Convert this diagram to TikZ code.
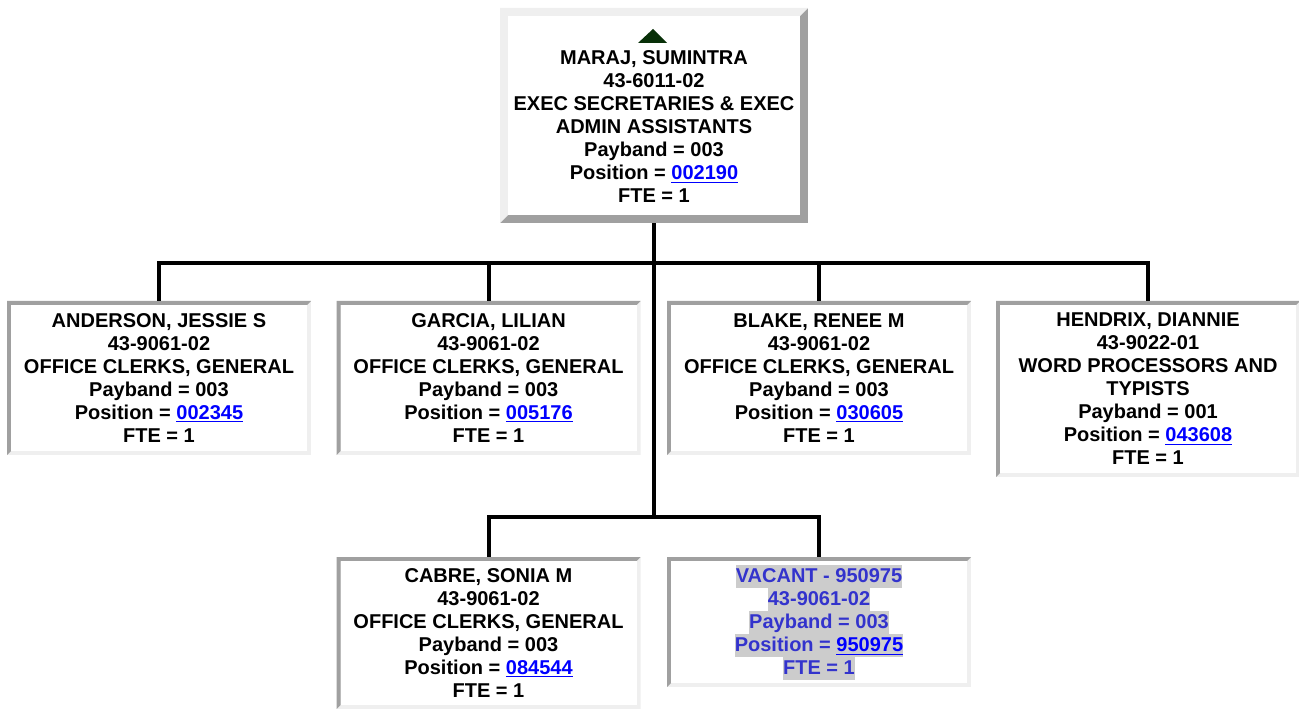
\documentclass[tikz,border=0pt]{standalone}
\usepackage{fontspec}
\setmainfont{Liberation Sans}
\usepackage{xcolor}
\usetikzlibrary{positioning, calc}
\definecolor{cDark}{RGB}{160,160,160}
\definecolor{cLight}{RGB}{239,239,239}
\definecolor{cLink}{RGB}{0,0,255}
\definecolor{cVacant}{RGB}{51,51,204}
\definecolor{cHigh}{RGB}{204,204,204}
\definecolor{cTri}{RGB}{8,48,8}
\newcommand{\orgfont}{\fontsize{15pt}{17.25pt}\selectfont\bfseries}
\newcommand{\ostrut}{\rule[-3.4pt]{0pt}{17.25pt}}
\newcommand{\poslink}[1]{\textcolor{cLink}{\underline{#1}}}
\newcommand{\hilite}[1]{{\setlength{\fboxsep}{0pt}\colorbox{cHigh}{\ostrut#1}}}
\tikzset{
	% bevelled border: top-left colour, bottom-right colour, width
	bevel/.style n args={3}{fill=white, path picture={
		\fill[#2] (path picture bounding box.south west) rectangle (path picture bounding box.north east);
		\fill[#1] (path picture bounding box.south west) |- (path picture bounding box.north east)
			-- ++(-#3,-#3) -| ([shift={(#3,#3)}]path picture bounding box.south west) -- cycle;
		\fill[white] ([shift={(#3,#3)}]path picture bounding box.south west) rectangle ([shift={(-#3,-#3)}]path picture bounding box.north east);
	}},
	bossbox/.style  ={rectangle, minimum width=231pt, minimum height=161.25pt, inner sep=0pt, align=center, font=\orgfont, bevel={cLight}{cDark}{6pt}},
	staffbox/.style ={rectangle, minimum width=228pt, minimum height=#1, inner sep=0pt, align=center, font=\orgfont, bevel={cDark}{cLight}{3pt}},
	wire/.style     ={line width=3pt, black},
}
\begin{document}
\begin{tikzpicture}[x=0.75pt, y=-0.75pt]
	\useasboundingbox (0,0) rectangle (1299,709);
	% head of the unit
	\node[bossbox] (maraj) at (654,115.5) {\ostrut\\ MARAJ, SUMINTRA\\ 43-6011-02\\ EXEC SECRETARIES \& EXEC\\ ADMIN ASSISTANTS\\ Payband = 003\\ Position = \poslink{002190}\\ FTE = 1\ostrut};
	\fill[cTri] (638,43) -- (653,29) -- (667,43) -- cycle;
	% first row
	\node[staffbox=115.5pt] (anderson) at (159,378) {\ostrut ANDERSON, JESSIE S\\ 43-9061-02\\ OFFICE CLERKS, GENERAL\\ Payband = 003\\ Position = \poslink{002345}\\ FTE = 1\ostrut};
	\node[staffbox=115.5pt] (garcia) at (488.5,378) {\ostrut GARCIA, LILIAN\\ 43-9061-02\\ OFFICE CLERKS, GENERAL\\ Payband = 003\\ Position = \poslink{005176}\\ FTE = 1\ostrut};
	\node[staffbox=115.5pt] (blake) at (819,378) {\ostrut BLAKE, RENEE M\\ 43-9061-02\\ OFFICE CLERKS, GENERAL\\ Payband = 003\\ Position = \poslink{030605}\\ FTE = 1\ostrut};
	\node[staffbox=132pt] (hendrix) at (1148,389) {\ostrut HENDRIX, DIANNIE\\ 43-9022-01\\ WORD PROCESSORS AND\\ TYPISTS\\ Payband = 001\\ Position = \poslink{043608}\\ FTE = 1\ostrut};
	% second row
	\node[staffbox=114pt] (cabre) at (488.5,633) {\ostrut CABRE, SONIA M\\ 43-9061-02\\ OFFICE CLERKS, GENERAL\\ Payband = 003\\ Position = \poslink{084544}\\ FTE = 1\ostrut};
	\node[staffbox=97.5pt, text=cVacant] (vacant) at (819,622) {\hilite{VACANT - 950975}\\ \hilite{43-9061-02}\\ \hilite{Payband = 003}\\ \hilite{Position = \poslink{950975}}\\ \hilite{FTE = 1}};
	% reporting lines
	\coordinate (busTop) at (654,263);
	\coordinate (busLow) at (654,517);
	\draw[wire] (maraj.south) -- (busLow);
	\draw[wire] (anderson.north) |- (busTop) -| (hendrix.north);
	\draw[wire] (garcia.north) -- (garcia.north |- busTop);
	\draw[wire] (blake.north) -- (blake.north |- busTop);
	\draw[wire] (cabre.north) |- (busLow) -| (vacant.north);
\end{tikzpicture}
\end{document}
